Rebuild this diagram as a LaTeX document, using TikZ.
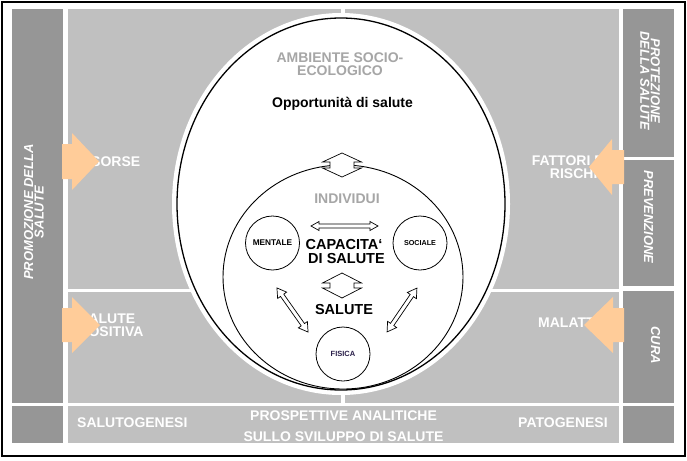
\documentclass[tikz,border=0pt]{standalone}
\usepackage{fontspec}
\setmainfont{Liberation Sans}
\usetikzlibrary{calc}
\definecolor{darkcol}{HTML}{969696}
\definecolor{lightcol}{HTML}{C0C0C0}
\definecolor{peach}{HTML}{FFCC99}
\definecolor{txtgray}{HTML}{A6A6A6}
\definecolor{fisicacol}{HTML}{2A1F4A}
\newcommand\dblarr[6]{%
 \begin{scope}[shift={#1},rotate=#2]
 \filldraw[hollowarr] ({-#3/2},0) -- ({-#3/2+#4},#5) -- ({-#3/2+#4},#6) -- ({#3/2-#4},#6) -- ({#3/2-#4},#5) -- ({#3/2},0) -- ({#3/2-#4},-#5) -- ({#3/2-#4},-#6) -- ({-#3/2+#4},-#6) -- ({-#3/2+#4},-#5) -- cycle;
 \end{scope}}
\tikzset{
 hollowarr/.style={fill=white,draw=black,line width=0.7pt,line join=miter},
 blockarr/.style={fill=peach,draw=none},
 wt/.style={text=white,font=\bfseries\fontsize{14}{14}\selectfont,inner sep=0pt},
 wt2/.style={text=white,font=\bfseries\fontsize{14}{13}\selectfont,inner sep=0pt},
 gt/.style={text=txtgray,font=\bfseries\fontsize{14}{14}\selectfont,inner sep=0pt},
 gt2/.style={text=txtgray,font=\bfseries\fontsize{14}{13}\selectfont,inner sep=0pt,align=center},
 bt/.style={text=black,font=\bfseries\fontsize{14}{14}\selectfont,inner sep=0pt},
 btl/.style={text=black,font=\bfseries\fontsize{14.5}{14.5}\selectfont,inner sep=0pt},
 rt/.style={text=white,font=\bfseries\itshape\fontsize{13}{10.5}\selectfont,align=center,inner sep=0pt},
 circ/.style={circle,draw=black,line width=0.8pt,fill=white,minimum size=54pt,inner sep=0pt},
}
\begin{document}
\begin{tikzpicture}[x=1pt,y=-1pt]
\useasboundingbox (0,0) rectangle (687,460);
\fill[white] (0,0) rectangle (687,460);
\draw[line width=1.2pt] (2,2) rectangle (685,456);
% columns and panels
\fill[darkcol] (12,9) rectangle (63,403);
\fill[darkcol] (12,406) rectangle (63,443);
\fill[lightcol] (68,9) rectangle (341,289);
\fill[lightcol] (345,9) rectangle (619,289);
\fill[lightcol] (68,292) rectangle (341,403);
\fill[lightcol] (345,292) rectangle (619,403);
\fill[lightcol] (68,406) rectangle (619,443);
\fill[darkcol] (623,9) rectangle (674,157);
\fill[darkcol] (623,160) rectangle (674,286);
\fill[darkcol] (623,291) rectangle (674,403);
\fill[darkcol] (623,406) rectangle (674,443);
% ellipses
\draw[white,line width=10pt] (341,204) ellipse [x radius=164, y radius=186];
\filldraw[fill=white,draw=black,line width=1.3pt] (341,204) ellipse [x radius=164, y radius=186];
\draw[line width=0.9pt] (343,277) ellipse [x radius=120, y radius=112];
% small circles
\node[circ] (mentale) at (272.5,243) {\bfseries\fontsize{8.3}{8.3}\selectfont MENTALE};
\node[circ] (sociale) at (420,243) {\bfseries\fontsize{7.2}{7.2}\selectfont SOCIALE};
\node[circ] (fisica) at (343,354) {\color{fisicacol}\bfseries\fontsize{7.5}{7.5}\selectfont FISICA};
% hollow double arrows
\dblarr{(342,165)}{90}{24}{9}{19.5}{12}
\dblarr{(342,285.5)}{90}{25}{10}{19.5}{12}
\dblarr{(344.5,226)}{0}{67}{8}{4.5}{2}
\dblarr{(292.5,310)}{-54.8}{54}{9}{5.5}{2}
\dblarr{(402,310)}{-124.3}{53}{9}{5.5}{2}
% inner texts
\node[gt2,anchor=north] (amb) at (340,52.6) {AMBIENTE SOCIO-\\ECOLOGICO};
\node[bt,anchor=base] (opp) at (342.5,107.5) {Opportunità di salute};
\node[gt,anchor=base] (indiv) at (347,203) {INDIVIDUI};
\node[btl,anchor=base] (cap1) at (344,249) {CAPACITA‘};
\node[btl,anchor=base] (cap2) at (346.5,263.5) {DI SALUTE};
\node[btl,anchor=base] (salute) at (344,314) {SALUTE};
% panel texts
\node[wt,anchor=base west] (risorse) at (77,166) {RISORSE};
\node[wt2,align=right,anchor=north east] (fattori) at (608.5,155.4) {FATTORI DI\\RISCHIO};
\node[wt2,align=left,anchor=north west] (salpos) at (79,313.6) {SALUTE\\POSITIVA};
\node[wt,anchor=base west] (malattia) at (538,327) {MALATTIA};
\node[wt,anchor=base west] (saluto) at (77,427.5) {SALUTOGENESI};
\node[wt,anchor=base west] (pato) at (518,427) {PATOGENESI};
\node[wt,anchor=base] (prosp1) at (343.5,420.5) {PROSPETTIVE ANALITICHE};
\node[wt,anchor=base] (prosp2) at (343.5,441.5) {SULLO SVILUPPO DI SALUTE};
% rotated column texts
\node[rt,rotate=90] (promo) at (34,212) {PROMOZIONE DELLA\\SALUTE};
\node[rt,rotate=-90] (prot) at (650,81) {PROTEZIONE\\DELLA SALUTE};
\node[rt,rotate=-90] (prev) at (648.5,217) {PREVENZIONE};
\node[rt,rotate=-90] (cura) at (655.5,345) {CURA};
% block arrows
\fill[blockarr] (62,144) -- (72,144) -- (72,133) -- (99,161.5) -- (72,190) -- (72,179) -- (62,179) -- cycle;
\fill[blockarr] (62,308) -- (72,308) -- (72,297) -- (100,325) -- (72,353) -- (72,342) -- (62,342) -- cycle;
\fill[blockarr] (624,150) -- (612,150) -- (612,139) -- (589,167) -- (612,195) -- (612,184) -- (624,184) -- cycle;
\fill[blockarr] (624,308) -- (613,308) -- (613,297) -- (584,325) -- (613,353) -- (613,342) -- (624,342) -- cycle;
\end{tikzpicture}
\end{document}
